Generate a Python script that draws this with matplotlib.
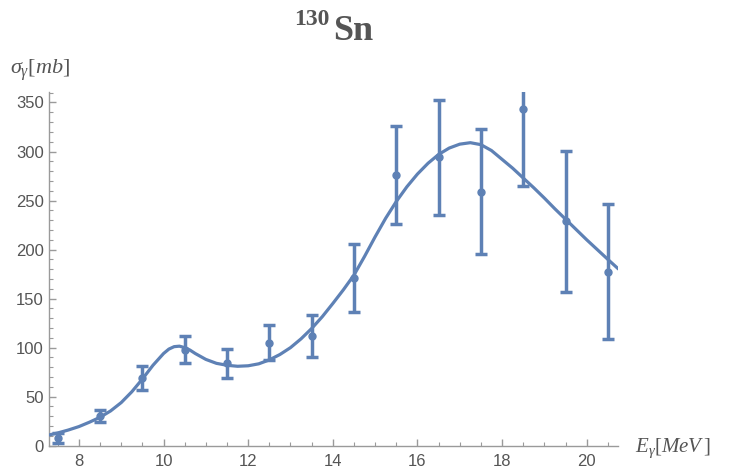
import matplotlib
matplotlib.use("Agg")
import matplotlib.pyplot as plt
from matplotlib.ticker import MultipleLocator

# ---- data ----
energy = [7.5, 8.5, 9.5, 10.5, 11.5, 12.5, 13.5, 14.5, 15.5, 16.5, 17.5, 18.5, 19.5, 20.5]
sigma = [7.5, 30, 69, 98, 84, 105, 112, 171, 276, 294, 259, 343, 229, 177.5]
sigma_err = [5, 6, 12, 13.5, 15, 18, 21.5, 35, 50, 59, 63.5, 78.5, 72, 69]

fit_e = [7.3, 7.5, 7.75, 8.0, 8.25, 8.5, 8.75, 9.0, 9.25, 9.5, 9.75, 10.0, 10.125,
         10.25, 10.375, 10.5, 10.625, 10.75, 11.0, 11.25, 11.5, 11.75, 12.0, 12.25,
         12.5, 12.75, 13.0, 13.25, 13.5, 13.75, 14.0, 14.25, 14.5, 14.75, 15.0,
         15.25, 15.5, 15.75, 16.0, 16.25, 16.5, 16.75, 17.0, 17.25, 17.5, 17.75,
         18.0, 18.25, 18.5, 18.75, 19.0, 19.25, 19.5, 19.75, 20.0, 20.25, 20.5, 20.73]
fit_sigma = [11, 13, 16, 19.5, 24, 29, 35.5, 44, 55, 68, 82, 94, 98.5,
             101, 101.5, 100, 97.5, 94, 88, 84, 82, 81, 81.5, 83.5,
             87.5, 93, 100, 109, 119.5, 131.5, 145, 159, 174, 193, 213,
             232, 249, 264, 277, 288, 297, 303.5, 307.5, 309, 307, 301,
             292, 283, 273, 263, 252.5, 241.5, 231, 220.5, 210, 200, 190, 181]

x_ticks = [8, 10, 12, 14, 16, 18, 20]
y_ticks = [0, 50, 100, 150, 200, 250, 300, 350]

# ---- style ----
plt.rcParams['mathtext.fontset'] = 'custom'
plt.rcParams['mathtext.it'] = 'Liberation Serif:italic'
plt.rcParams['mathtext.rm'] = 'Liberation Serif'
plt.rcParams['mathtext.bf'] = 'Liberation Serif:bold'

blue = '#5E81B5'
axis_col = '#9a9a9a'
text_col = '#555555'

fig = plt.figure(figsize=(7.3, 4.74), dpi=100)
ax = fig.add_axes([49.3 / 730, 1 - 445.7 / 474, (618 - 49.3) / 730, (445.7 - 91.7) / 474])

ax.plot(fit_e, fit_sigma, color=blue, lw=2.3, zorder=3, clip_on=True,
        solid_joinstyle='round')
ax.errorbar(energy, sigma, yerr=sigma_err, fmt='o', color=blue, ms=5,
            elinewidth=2.5, capsize=4, capthick=2.5, zorder=4)

ax.set_xlim(7.3, 20.74)
ax.set_ylim(0, 361)

for s in ['top', 'right']:
    ax.spines[s].set_visible(False)
for s in ['left', 'bottom']:
    ax.spines[s].set_color(axis_col)
    ax.spines[s].set_linewidth(1.0)

ax.set_xticks(x_ticks)
ax.set_yticks(y_ticks)
ax.xaxis.set_minor_locator(MultipleLocator(0.5))
ax.yaxis.set_minor_locator(MultipleLocator(10))
ax.tick_params(axis='both', which='major', direction='in', length=5, width=1,
               color=axis_col, labelcolor=text_col, labelsize=12)
ax.tick_params(axis='both', which='minor', direction='in', length=3, width=0.8,
               color=axis_col)
for lab in ax.get_xticklabels() + ax.get_yticklabels():
    lab.set_family('Liberation Sans')
ax.tick_params(axis='x', pad=6)
ax.tick_params(axis='y', pad=4)

# axis labels
fig.text(10 / 730, 1 - 74 / 474, r'$\sigma_{\gamma}[mb]$', fontsize=16,
         color=text_col, ha='left', va='baseline')
fig.text(635 / 730, 1 - 452 / 474, r'$E_{\gamma}[MeV\,]$', fontsize=15,
         color=text_col, ha='left', va='baseline')

# title
fig.text(333 / 730, 1 - 39.5 / 474, 'Sn', fontsize=26, fontweight='bold',
         family='Liberation Serif', color=text_col, ha='left', va='baseline')
fig.text(330 / 730, 1 - 25 / 474, '130', fontsize=17, fontweight='bold',
         family='Liberation Serif', color=text_col, ha='right', va='baseline')

fig.savefig('out.png', dpi=100)
